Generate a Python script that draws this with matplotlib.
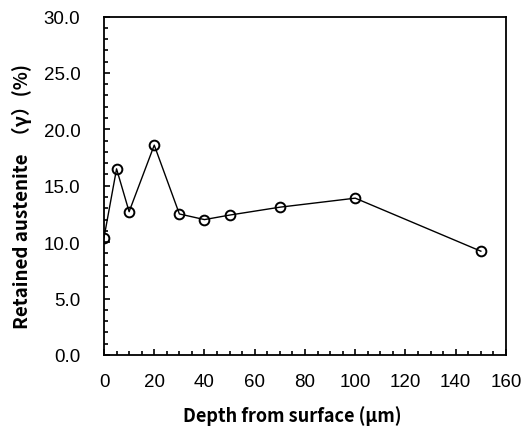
import numpy as np
import matplotlib
matplotlib.use('Agg')
import matplotlib.pyplot as plt
from matplotlib.ticker import MultipleLocator, FormatStrFormatter

# data
depth = [0, 5, 10, 20, 30, 40, 50, 70, 100, 150]
austenite = [10.4, 16.5, 12.7, 18.6, 12.5, 12.0, 12.4, 13.1, 13.9, 9.2]

plt.rcParams['font.family'] = ['Noto Sans CJK JP', 'DejaVu Sans']

fig = plt.figure(figsize=(5.29, 4.27), dpi=100)
ax = fig.add_axes([0.1966, 0.1663, 0.7599, 0.7927])

ax.plot(depth, austenite, color='black', linewidth=1.0,
        marker='o', markersize=7, markerfacecolor='none',
        markeredgecolor='black', markeredgewidth=1.4)

ax.set_xlim(0, 160)
ax.set_ylim(0, 30)
ax.xaxis.set_major_locator(MultipleLocator(20))
ax.xaxis.set_minor_locator(MultipleLocator(5))
ax.yaxis.set_major_locator(MultipleLocator(5))
ax.yaxis.set_minor_locator(MultipleLocator(1))
ax.yaxis.set_major_formatter(FormatStrFormatter('%.1f'))

ax.tick_params(axis='both', which='both', direction='in')
ax.tick_params(axis='both', which='major', length=4, width=1.2)
ax.tick_params(axis='both', which='minor', length=3, width=1.2)
ax.tick_params(axis='y', which='both', pad=17)
ax.tick_params(axis='x', which='both', pad=13)
for lab in ax.get_xticklabels() + ax.get_yticklabels():
    lab.set_fontfamily('Liberation Sans')
    lab.set_fontsize(13.5)

for s in ax.spines.values():
    s.set_linewidth(1.3)

ax.set_xlabel('Depth from surface (μm)', fontsize=13, fontweight='bold')
ax.set_ylabel('Retained austenite  （γ）(%)', fontsize=13.5, fontweight='bold')
ax.xaxis.set_label_coords(0.468, -0.148)
ax.yaxis.set_label_coords(-0.18, 0.47)

fig.savefig('out.png', dpi=100)
